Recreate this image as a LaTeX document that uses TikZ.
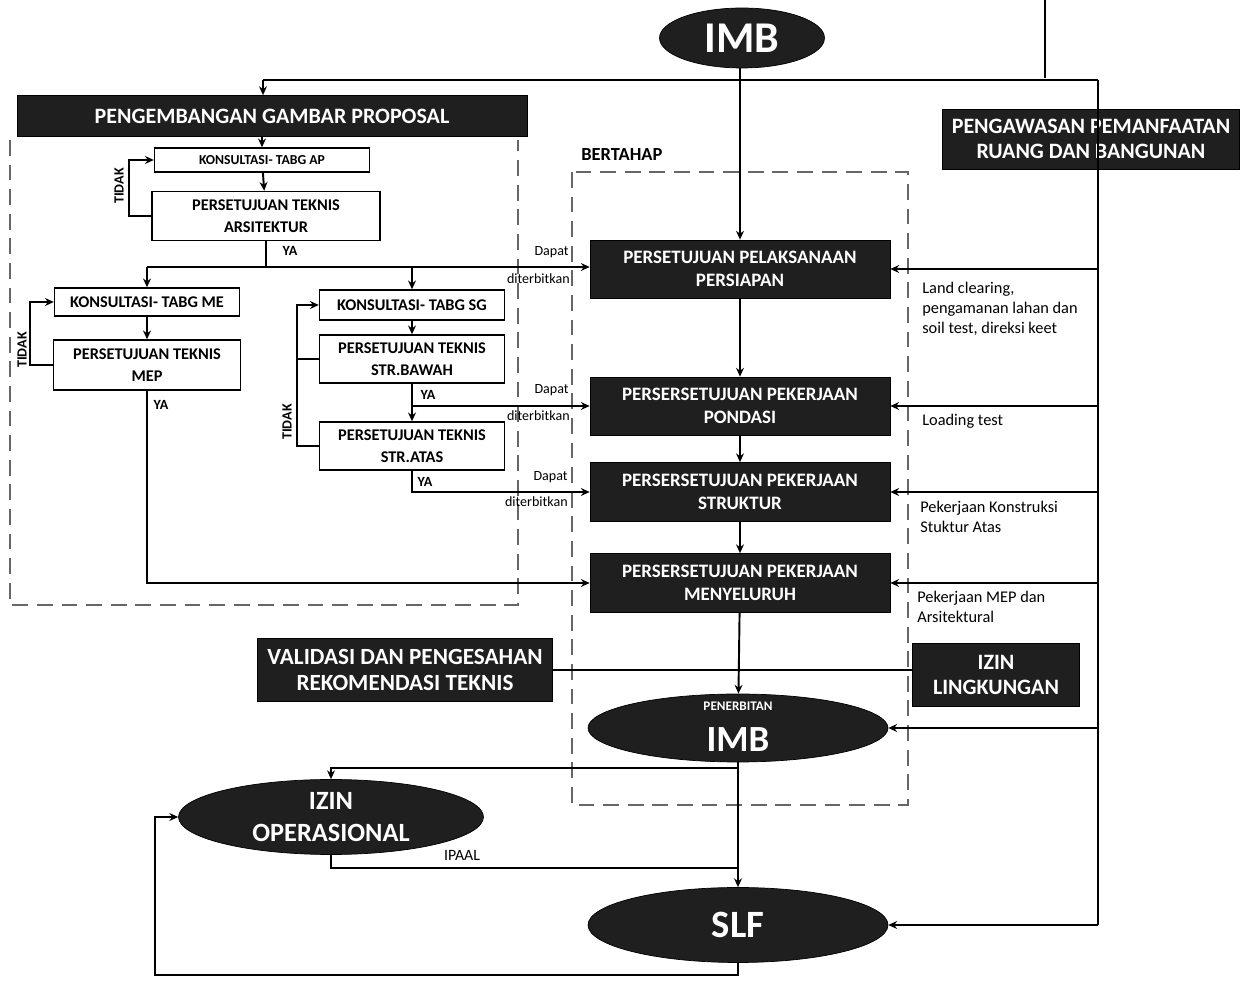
\documentclass[tikz,border=0pt]{standalone}
\usepackage{fontspec}
\setmainfont{Carlito}
\usetikzlibrary{shapes.geometric,arrows.meta}

\tikzset{
  blackbox/.style={draw=black, fill=black!88, text=white, font=\bfseries, align=center, inner sep=1pt},
  whitebox/.style={draw=black, line width=0.8pt, fill=white, align=center, inner sep=1pt,
    font=\bfseries\fontsize{9.3}{12.5}\selectfont},
  oval/.style={ellipse, draw=black, fill=black!88, text=white, font=\bfseries, align=center, inner sep=0pt},
  flow/.style={line width=1.1pt, -{Stealth[length=5pt,width=4.5pt]}},
  wire/.style={line width=1.1pt},
  zone/.style={draw=black!60, line width=1pt, dash pattern=on 9pt off 5pt},
  remark/.style={font=\fontsize{9.3}{11.3}\selectfont, align=left, anchor=north west, inner sep=0pt},
  dapat/.style={font=\fontsize{8}{9}\selectfont, anchor=east, inner sep=0pt},
  yamark/.style={font=\bfseries\fontsize{8}{9}\selectfont, inner sep=0pt},
}

\begin{document}
\begin{tikzpicture}[x=0.02cm, y=-0.02cm]
    \useasboundingbox (0,0) rectangle (1259,982);

    % top
    \node[oval, minimum width=3.3cm, minimum height=1.2cm, font=\bfseries\fontsize{25}{27}\selectfont] (imb) at (742,38) {IMB};
    \node[blackbox, minimum width=10.2cm, minimum height=0.82cm, font=\bfseries\fontsize{12.5}{14}\selectfont] (proposal) at (272,116) {PENGEMBANGAN GAMBAR PROPOSAL};
    \node[blackbox, minimum width=5.94cm, minimum height=1.2cm, font=\bfseries\fontsize{12.5}{14}\selectfont] (pengawasan) at (1091,139) {PENGAWASAN PEMANFAATAN\\RUANG DAN BANGUNAN};

    % gambar proposal
    \draw[zone] (10,140) -- (10,605) -- (518,605) -- (518,140);
    \node[whitebox, minimum width=4.3cm, minimum height=0.48cm, font=\bfseries\fontsize{7.8}{9}\selectfont] (konsAP) at (262,160) {KONSULTASI- TABG AP};
    \node[whitebox, minimum width=4.56cm, minimum height=0.98cm] (ptAR) at (266,216) {PERSETUJUAN TEKNIS\\ARSITEKTUR};
    \node[whitebox, minimum width=3.7cm, minimum height=0.56cm] (konsME) at (147,302) {KONSULTASI- TABG ME};
    \node[whitebox, minimum width=3.74cm, minimum height=1.0cm] (ptMEP) at (147,365) {PERSETUJUAN TEKNIS\\MEP};
    \node[whitebox, minimum width=3.7cm, minimum height=0.6cm] (konsSG) at (412,305) {KONSULTASI- TABG SG};
    \node[whitebox, minimum width=3.7cm, minimum height=0.96cm] (bawah) at (412,359) {PERSETUJUAN TEKNIS\\STR.BAWAH};
    \node[whitebox, minimum width=3.7cm, minimum height=0.96cm] (atas) at (412,446) {PERSETUJUAN TEKNIS\\STR.ATAS};

    % bertahap
    \draw[zone] (572,172) rectangle (908,805);
    \node[font=\bfseries\fontsize{10.5}{12}\selectfont, anchor=west, inner sep=0pt] (bertahap) at (581,155) {BERTAHAP};
    \node[blackbox, minimum width=6cm, minimum height=1.16cm, font=\bfseries\fontsize{10.8}{13}\selectfont] (persiapan) at (740,269) {PERSETUJUAN PELAKSANAAN\\PERSIAPAN};
    \node[blackbox, minimum width=6cm, minimum height=1.16cm, font=\bfseries\fontsize{10.8}{13}\selectfont] (pondasi) at (740,406) {PERSERSETUJUAN PEKERJAAN\\PONDASI};
    \node[blackbox, minimum width=6cm, minimum height=1.18cm, font=\bfseries\fontsize{10.8}{13}\selectfont] (struktur) at (740,492) {PERSERSETUJUAN PEKERJAAN\\STRUKTUR};
    \node[blackbox, minimum width=6cm, minimum height=1.18cm, font=\bfseries\fontsize{10.8}{13}\selectfont] (menyeluruh) at (740,583) {PERSERSETUJUAN PEKERJAAN\\MENYELURUH};

    \node[blackbox, minimum width=5.9cm, minimum height=1.26cm, font=\bfseries\fontsize{13.2}{14.7}\selectfont] (validasi) at (405,670) {VALIDASI DAN PENGESAHAN\\REKOMENDASI TEKNIS};
    \node[blackbox, minimum width=3.34cm, minimum height=1.26cm, font=\bfseries\fontsize{12.5}{14.7}\selectfont] (lingkungan) at (996,675) {IZIN\\LINGKUNGAN};

    % ellipses
    \node[oval, minimum width=6cm, minimum height=1.36cm] (penerbitan) at (738,728) {};
    \node[text=white, font=\bfseries\fontsize{7.5}{9}\selectfont, inner sep=0pt] (penerbitanlbl) at (738,706) {PENERBITAN};
    \node[text=white, font=\bfseries\fontsize{21}{23}\selectfont, inner sep=0pt] (imbbawah) at (738,740) {IMB};
    \node[oval, minimum width=6.1cm, minimum height=1.5cm, font=\bfseries\fontsize{15}{18}\selectfont] (izinops) at (331,817) {IZIN\\OPERASIONAL};
    \node[oval, minimum width=6cm, minimum height=1.5cm, font=\bfseries\fontsize{22}{24}\selectfont] (slf) at (738,925) {SLF};

    % top distribution
    \coordinate (topL) at (263,80);
    \coordinate (topR) at (1098,80);
    \draw[wire] (topL) -- (topR);
    \draw[line width=0.6pt] (1045,0) -- (1045,78);
    \draw[flow] (imb.south -| persiapan.north) -- (persiapan.north);
    \draw[flow] (topL) -- (topL |- proposal.north);
    \draw[flow] (proposal.south -| konsAP.north) -- (konsAP.north);

    % arsitektur
    \draw[flow] (konsAP) -- (ptAR);
    \draw[flow] (ptAR.west) -- ++(-22,0) |- (konsAP.west);
    \node[yamark, rotate=90] (tidakAR) at (119,186) {TIDAK};
    \coordinate (fork1) at (147,267);
    \draw[wire] (ptAR.south) -- (ptAR.south |- fork1);
    \draw[flow] (fork1) -- (fork1 -| persiapan.west);
    \draw[flow] (fork1) -- (konsME.north);
    \draw[flow] (konsSG.north |- fork1) -- (konsSG.north);
    \node[yamark] (yaAR) at (290,251) {YA};
    \node[dapat] (dapat1) at (569,252) {Dapat};
    \node[dapat] (terbit1) at (570,279) {diterbitkan};

    % MEP
    \draw[flow] (konsME) -- (ptMEP);
    \draw[flow] (ptMEP.west) -- ++(-23,0) |- (konsME.west);
    \node[yamark, rotate=90] (tidakME) at (22,350) {TIDAK};
    \draw[flow] (ptMEP.south) |- (menyeluruh.west);
    \node[yamark] (yaME) at (161,405) {YA};

    % struktur
    \draw[flow] (konsSG) -- (bawah);
    \draw[flow] (bawah) -- (atas);
    \draw[wire] (bawah.west) -- ++(-22,0);
    \draw[flow] (atas.west) -- ++(-22,0) |- (konsSG.west);
    \node[yamark, rotate=90] (tidakSG) at (287,422) {TIDAK};
    \draw[flow] (pondasi.west -| bawah.south) -- (pondasi.west);
    \node[yamark] (yaBW) at (428,395) {YA};
    \node[dapat] (dapat2) at (569,390) {Dapat};
    \node[dapat] (terbit2) at (570,416) {diterbitkan};
    \draw[flow] (atas.south) |- (struktur.west);
    \node[yamark] (yaAT) at (425,482) {YA};
    \node[dapat] (dapat3) at (568,477) {Dapat};
    \node[dapat] (terbit3) at (568,502) {diterbitkan};

    % main column
    \draw[flow] (persiapan) -- (pondasi);
    \draw[flow] (pondasi) -- (struktur);
    \draw[flow] (struktur) -- (menyeluruh);
    \draw[flow] (menyeluruh) -- (penerbitan);
    \draw[wire] (validasi.east) -- (validasi.east -| lingkungan.west);

    % pengawasan feed
    \draw[wire] (topR) -- (slf.east -| topR);
    \draw[flow] (persiapan.east -| topR) -- (persiapan.east);
    \draw[flow] (pondasi.east -| topR) -- (pondasi.east);
    \draw[flow] (struktur.east -| topR) -- (struktur.east);
    \draw[flow] (menyeluruh.east -| topR) -- (menyeluruh.east);
    \draw[flow] (penerbitan.east -| topR) -- (penerbitan.east);
    \draw[flow] (slf.east -| topR) -- (slf.east);
    \node[remark] (note1) at (922,282) {Land clearing,\\pengamanan lahan dan\\soil test, direksi keet};
    \node[remark] (note2) at (922,414) {Loading test};
    \node[remark] (note3) at (920,501) {Pekerjaan Konstruksi\\Stuktur Atas};
    \node[remark] (note4) at (917,591) {Pekerjaan MEP dan\\Arsitektural};

    % penerbitan - slf
    \coordinate (fork3) at (738,768);
    \coordinate (ipaaljoin) at (738,868);
    \coordinate (loopbot) at (155,975);
    \draw[flow] (penerbitan) -- (slf);
    \draw[flow] (fork3) -| (izinops.north);
    \draw[wire] (izinops.south) |- (ipaaljoin);
    \node[font=\fontsize{9}{11}\selectfont, inner sep=0pt] (ipaal) at (462,855) {IPAAL};
    \draw[flow] (slf.south) |- (loopbot) |- (izinops.west);
\end{tikzpicture}
\end{document}
